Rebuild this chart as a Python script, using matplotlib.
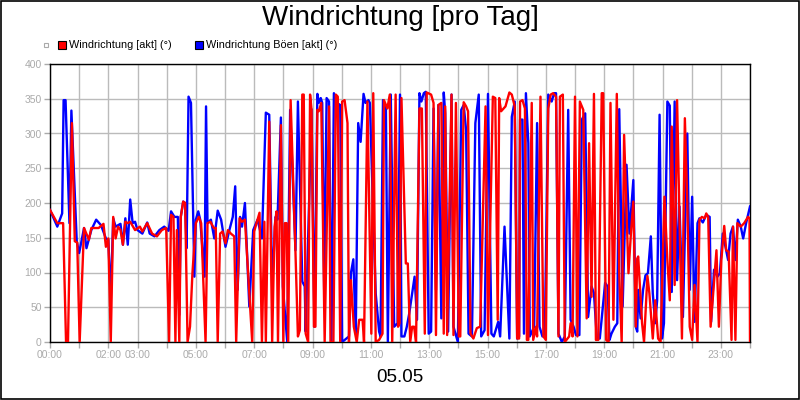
import matplotlib
matplotlib.use("Agg")
import matplotlib.pyplot as plt
from matplotlib.patches import Rectangle

plt.rcParams['font.family'] = ['Liberation Sans', 'DejaVu Sans']

# minutes since midnight (05.05) and wind direction in degrees
blue_min = [0, 15, 25, 28, 32, 40, 44, 55, 60, 70, 75, 85, 95, 105, 115, 120, 125, 130, 135, 145,
            150, 155, 160, 165, 170, 175, 180, 190, 200, 205, 215, 225, 235,
            244, 249, 256, 263, 266, 269, 274, 278, 281, 285, 290, 297, 300, 305, 309, 318, 321, 324,
            331, 338, 345, 352, 361, 369, 376, 381, 386, 391, 395, 401, 410, 418, 427, 436, 444, 451,
            457, 464, 468, 475, 479,
            488, 494, 505, 510, 519, 524, 526, 538, 544, 550, 553, 557, 560, 564, 569, 574, 579, 584,
            590, 597, 601, 608, 615, 619, 624, 629, 634, 639, 645, 649, 655, 658, 670, 677, 680, 685,
            691, 695, 701, 708, 715, 720, 723,
            729, 734, 739, 750, 755, 760, 764, 769, 773, 779, 784, 789, 794, 799, 805, 810, 813, 819,
            826, 830, 839, 846, 851, 856, 861, 868, 875, 882, 887, 894, 901, 908, 913, 922, 926, 935,
            945, 950, 956, 961, 965,
            967, 972, 975, 979, 984, 987, 996, 1002, 1007, 1013, 1018, 1025, 1032, 1037, 1041, 1046,
            1053, 1059, 1066, 1071, 1077, 1082, 1089, 1094, 1101, 1107, 1114, 1119, 1125, 1131, 1142,
            1147, 1151, 1155, 1162, 1167, 1171, 1178, 1186, 1192, 1200, 1205, 1208,
            1210, 1215, 1220, 1225, 1230, 1236, 1240, 1245, 1249, 1254, 1259, 1263, 1270, 1275, 1279,
            1285, 1290, 1295, 1302, 1311, 1316, 1321, 1326, 1332, 1336, 1343, 1350, 1357, 1360, 1366,
            1373, 1378, 1384, 1391, 1395, 1400, 1405, 1410, 1415, 1421, 1426, 1432, 1440]
blue_val = [190, 166, 185, 348, 348, 171, 333, 145, 128, 164, 135, 161, 176, 168, 149, 147, 63, 178, 166, 170,
            140, 178, 140, 205, 171, 173, 161, 156, 172, 156, 152, 161, 166,
            160, 188, 180, 180, 39, 180, 202, 200, 135, 353, 344, 94, 176, 188, 176, 94, 339, 171,
            176, 149, 189, 176, 137, 161, 180, 224, 75, 180, 166, 200, 51, 161, 176, 149, 330, 327,
            80, 180, 176, 323, 80,
            0, 334, 132, 346, 87, 80, 15, 335, 22, 357, 344, 351, 344, 75, 351, 346, 0, 358,
            344, 341, 0, 4, 8, 99, 119, 12, 315, 288, 357, 344, 348, 344, 70, 15, 8, 348,
            336, 0, 356, 22, 27, 356, 8,
            8, 22, 41, 94, 32, 358, 346, 358, 360, 12, 15, 336, 75, 341, 34, 359, 329, 15,
            356, 22, 0, 334, 341, 305, 12, 8, 315, 356, 8, 17, 357, 12, 8, 29, 8, 166,
            5, 324, 346, 5, 8,
            320, 320, 12, 358, 286, 8, 22, 315, 22, 8, 12, 356, 346, 358, 358, 12,
            0, 8, 334, 32, 22, 10, 10, 320, 329, 36, 80, 70, 5, 5, 85,
            80, 3, 12, 22, 27, 335, 51, 255, 156, 233, 22, 15,
            75, 34, 75, 96, 99, 152, 70, 27, 60, 327, 5, 27, 346, 340, 72,
            346, 89, 195, 36, 300, 75, 209, 29, 171, 178, 172, 183, 180, 29, 104,
            94, 99, 156, 132, 118, 156, 166, 118, 176, 166, 149, 171, 195]

red_min = [0, 15, 27, 33, 37, 45, 51, 56, 61, 70, 80, 85, 100, 110, 115, 120, 125, 130, 135, 140,
           145, 150, 155, 160, 165, 175, 185, 190, 200, 210, 220, 230,
           239, 245, 249, 254, 258, 261, 266, 269, 274, 278, 283, 288, 293, 300, 306, 311, 320, 324,
           330, 337, 341, 345, 350, 355, 361, 366, 372, 379, 383, 390, 395, 401, 416, 420, 431, 436,
           441, 444, 451, 457, 462, 466, 469, 475, 480,
           483, 487, 490, 495, 505, 510, 514, 519, 522, 526, 531, 535, 538, 543, 546, 550, 553, 558,
           565, 574, 577, 583, 588, 592, 597, 601, 606, 612, 615, 619, 625, 631, 636, 643, 646, 653,
           661, 665, 670, 677, 684, 687, 694, 699, 704, 711, 716, 719, 723,
           732, 736, 741, 745, 749, 753, 760, 765, 771, 775, 784, 789, 794, 799, 805, 810, 813, 817,
           826, 830, 835, 841, 844, 851, 856, 860, 865, 871, 878, 885, 896, 901, 911, 916, 921, 924,
           928, 937, 945, 950, 956, 961, 965,
           967, 972, 977, 981, 984, 991, 994, 1000, 1002, 1009, 1015, 1020, 1025, 1030, 1035, 1041,
           1046, 1049, 1055, 1059, 1068, 1071, 1075, 1080, 1085, 1090, 1097, 1104, 1109, 1114, 1119,
           1123, 1128, 1135, 1138, 1144, 1149, 1153, 1159, 1166, 1171, 1176, 1181, 1190, 1195, 1200,
           1205, 1208,
           1210, 1218, 1222, 1229, 1233, 1240, 1245, 1251, 1256, 1264, 1270, 1275, 1279, 1285, 1290,
           1300, 1306, 1311, 1316, 1321, 1326, 1332, 1336, 1341, 1347, 1350, 1354, 1359, 1371, 1376,
           1381, 1387, 1391, 1396, 1402, 1405, 1410, 1414, 1421, 1428, 1436, 1439, 1440]
red_val = [190, 171, 171, 0, 0, 315, 145, 143, 0, 164, 147, 164, 164, 170, 137, 149, 0, 180, 149, 166,
           161, 140, 173, 171, 173, 161, 166, 159, 171, 156, 152, 161,
           164, 0, 183, 180, 0, 161, 0, 180, 202, 200, 0, 22, 99, 171, 180, 171, 0, 171,
           173, 164, 164, 0, 156, 159, 142, 161, 156, 152, 0, 178, 173, 176, 0, 159, 186, 0,
           173, 0, 317, 0, 166, 188, 0, 312, 0,
           171, 171, 0, 348, 128, 8, 17, 356, 356, 12, 0, 356, 334, 22, 22, 334, 332, 344,
           0, 339, 0, 0, 356, 353, 0, 346, 348, 315, 0, 89, 22, 0, 32, 32, 0, 346,
           12, 358, 0, 3, 12, 348, 336, 356, 0, 356, 22, 27, 351,
           113, 113, 0, 22, 22, 0, 336, 336, 12, 359, 356, 344, 10, 341, 344, 12, 339, 10,
           356, 10, 344, 8, 8, 345, 339, 332, 12, 5, 20, 22, 339, 10, 353, 351, 32, 351,
           332, 339, 359, 356, 339, 5, 5,
           346, 348, 336, 3, 3, 344, 3, 22, 8, 353, 8, 3, 336, 356, 358, 353,
           8, 353, 356, 0, 8, 27, 8, 353, 8, 346, 334, 34, 286, 65, 357,
           3, 3, 358, 358, 3, 0, 344, 32, 357, 99, 0, 298, 99, 156, 202,
           22, 120,
           123, 27, 0, 95, 70, 5, 60, 5, 0, 209, 118, 60, 310, 82, 348,
           5, 322, 200, 22, 3, 82, 0, 176, 180, 178, 185, 180, 22, 132, 22,
           118, 167, 132, 130, 3, 166, 3, 171, 166, 171, 180, 178, 0]

label_hours = [0, 2, 3, 5, 7, 9, 11, 13, 15, 17, 19, 21, 23]
y_ticks = [0, 50, 100, 150, 200, 250, 300, 350, 400]

fig = plt.figure(figsize=(8, 4), dpi=100)
ax = fig.add_axes([50/800, 58/400, 700/800, 278/400])

ax.plot(blue_min, blue_val, color='#0000ff', lw=1.7, zorder=3)
ax.plot(red_min, red_val, color='#ff0000', lw=1.7, zorder=4)

ax.set_xlim(0, 1440)
ax.set_ylim(0, 400)
xt = list(range(0, 1441, 60))
ax.set_xticks(xt)
ax.set_xticklabels(['%02d:00' % (m // 60) if m // 60 in label_hours and m < 1440 else '' for m in xt])
ax.set_yticks(y_ticks)
ax.grid(color='#bbbbbb', lw=1, zorder=0)
ax.set_axisbelow(True)
ax.tick_params(colors='#aaaaaa', labelcolor='#aaaaaa', labelsize=7.5, length=4, width=1, pad=2)
for s in ax.spines.values():
    s.set_color('black')
    s.set_linewidth(1)

# title, legend, date label
fig.text(0.5, 1 - 18/400, 'Windrichtung [pro Tag]', ha='center', va='center', fontsize=20)
fig.add_artist(Rectangle((44/800, 1 - 47/400), 4/800, 4/400, transform=fig.transFigure,
                         facecolor='white', edgecolor='#aaaaaa', lw=0.8))
fig.add_artist(Rectangle((58/800, 1 - 49/400), 8/800, 8/400, transform=fig.transFigure,
                         facecolor='#ff0000', edgecolor='black', lw=0.8))
fig.text(69/800, 1 - 45/400, 'Windrichtung [akt] (°)', ha='left', va='center', fontsize=7.8)
fig.add_artist(Rectangle((195/800, 1 - 49/400), 8/800, 8/400, transform=fig.transFigure,
                         facecolor='#0000ff', edgecolor='black', lw=0.8))
fig.text(206/800, 1 - 45/400, 'Windrichtung Böen [akt] (°)', ha='left', va='center', fontsize=7.8)
fig.text(400/800, 1 - 378/400, '05.05', ha='center', va='center', fontsize=13.5)

fig.add_artist(Rectangle((0.6/800, 0.6/400), 798.8/800, 398.8/400, transform=fig.transFigure,
                         fill=False, edgecolor='black', lw=1.2))

fig.savefig('out.png', dpi=100)
